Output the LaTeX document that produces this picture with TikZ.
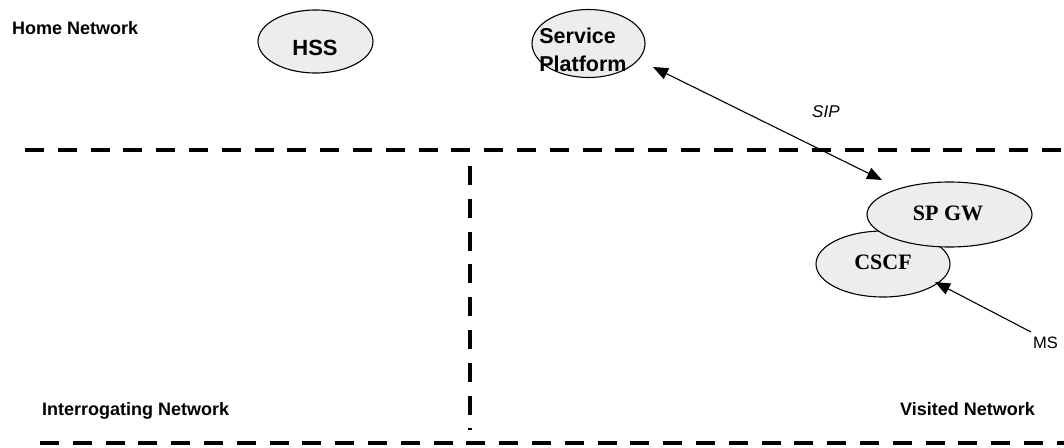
\documentclass[tikz,border=0pt]{standalone}
\usepackage{fontspec}
\setmainfont{Liberation Sans}
\newfontfamily\tms{Liberation Serif}
\usetikzlibrary{arrows.meta,shapes.geometric}
\begin{document}
\begin{tikzpicture}[x=1pt,y=-1pt,
  boundary/.style={line width=4pt, dash pattern=on 19pt off 13.8pt},
  entity/.style={ellipse, draw, line width=1.1pt, fill=black!7, inner sep=0pt},
  lbl/.style={inner sep=0pt, anchor=base west, font=\fontsize{18}{21}\selectfont\bfseries},
  etext/.style={inner sep=0pt, anchor=base},
  tip/.style={-{Triangle[length=15pt,width=12pt]}},
  conn/.style={line width=1.1pt}]
\useasboundingbox (0,0) rectangle (1064,447);

% network boundaries
\draw[boundary] (25,150) -- (1064,150);
\draw[boundary] (40,443) -- (1064,443);
\draw[boundary] (470,166) -- (470,430);

% entities
\node[entity, minimum width=115pt, minimum height=63pt] (hss) at (315.5,41.5) {};
\node[etext, font=\fontsize{22}{26}\selectfont\bfseries] (hsst) at (315,55) {HSS};

\node[entity, minimum width=113pt, minimum height=68pt] (sp) at (588.5,43.5) {};
\node[inner sep=0pt, align=left, font=\fontsize{21.5}{28}\selectfont\bfseries] (spt) at (583,49.5) {Service\\Platform};

\node[entity, minimum width=134pt, minimum height=66pt] (cscf) at (883,264) {};
\node[entity, minimum width=165pt, minimum height=65pt] (spgw) at (949.5,214.5) {};
\node[etext, font=\fontsize{22}{26}\selectfont\tms\bfseries] (spgwt) at (948,220) {SP GW};
\node[etext, font=\fontsize{22}{26}\selectfont\tms\bfseries] (cscft) at (883,269) {CSCF};

% labels
\node[lbl] (home) at (12,34) {Home Network};
\node[lbl] (interr) at (42,415) {Interrogating Network};
\node[lbl] (visited) at (900,415) {Visited Network};
\node[inner sep=0pt, anchor=base west, font=\fontsize{17}{20}\selectfont\itshape] (sip) at (812,117) {SIP};
\node[inner sep=0pt, anchor=base west, font=\fontsize{16.5}{20}\selectfont] (ms) at (1033,348) {MS};

% connectors
\coordinate (sipA) at (653,67);
\coordinate (sipB) at (882,180);
\draw[conn, {Triangle[length=15pt,width=12pt]}-{Triangle[length=15pt,width=12pt]}] (sipA) -- (sipB);
\coordinate (msEnd) at (1031,332);
\coordinate (msTip) at (935,282);
\draw[conn, tip] (msEnd) -- (msTip);
\end{tikzpicture}
\end{document}
